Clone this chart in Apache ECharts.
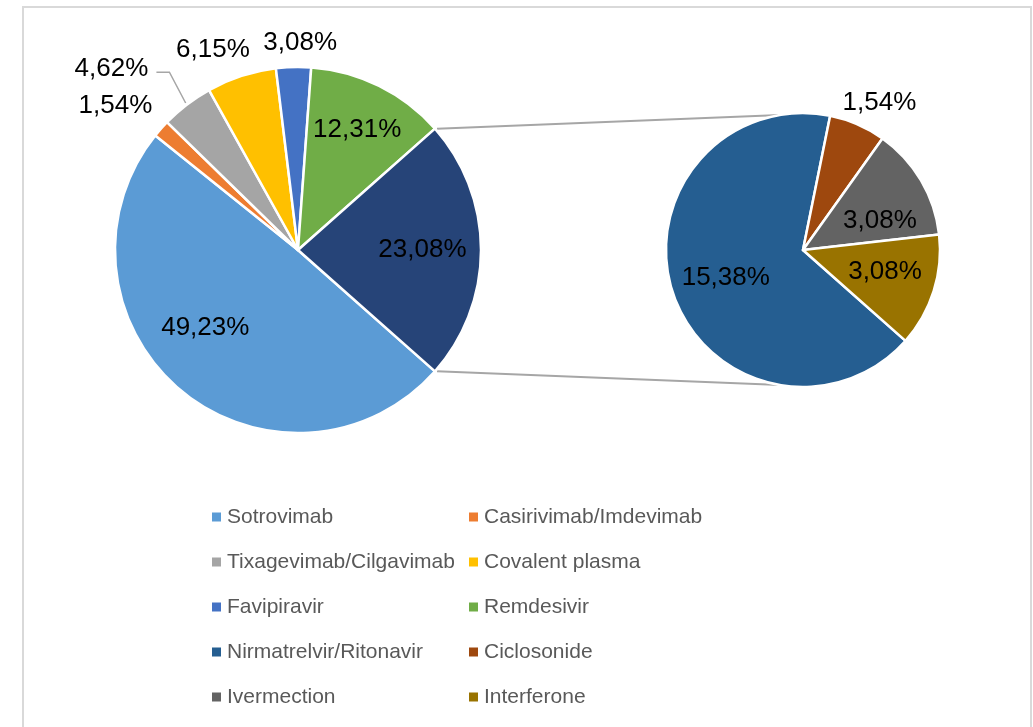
<!DOCTYPE html>
<html>
<head>
<meta charset="utf-8">
<script src="https://cdn.jsdelivr.net/npm/echarts@6/dist/echarts.min.js"></script>
<style>
html, body { margin: 0; padding: 0; background: #fff; overflow: hidden; }
#frame { position: absolute; left: 22px; top: 6px; width: 1010px; height: 800px; border: 2px solid #d9d9d9; box-sizing: border-box; }
#chart { position: absolute; left: 0; top: 0; width: 1033px; height: 727px; }
</style>
</head>
<body>
<div id="frame"></div>
<div id="chart"></div>
<script>
// values of the big pie (percent of all patients)
var mainNames = ['Sotrovimab', 'Casirivimab/Imdevimab', 'Tixagevimab/Cilgavimab', 'Covalent plasma', 'Favipiravir', 'Remdesivir'];
var mainValues = [49.23, 1.54, 4.62, 6.15, 3.08, 12.31];
// values split out into the small pie
var subNames = ['Nirmatrelvir/Ritonavir', 'Ciclosonide', 'Ivermection', 'Interferone'];
var subValues = [15.38, 1.54, 3.08, 3.08];

var mainColors = ['#5b9bd5', '#ed7d31', '#a5a5a5', '#ffc000', '#4472c4', '#70ad47'];
var otherColor = '#264478';
var subColors = ['#255e91', '#9e480e', '#636363', '#997300'];

// label placement: [radius factor, angle shift in degrees]
var mainLabelPlace = [[0.66, -10], [1.27, 3.3], [1.42, 8.5], [1.19, 5], [1.13, -2], [0.73, 0], [0.68, 0]];
var subLabelPlace = [[0.6, 1.5], [1.21, -4], [0.6, -10], [0.62, 2.5]];

var C1 = [298, 250], R1 = 183;
var C2 = [803, 250], R2 = 137;

function sum(a) {
  return a.reduce(function (s, v) { return s + v; }, 0);
}

var otherValue = sum(subValues);
var vals1 = mainValues.concat([otherValue]);
var total1 = sum(vals1);
var total2 = sum(subValues);
var start = -180 * otherValue / total1;

function midAngle(vals, total, i) {
  var cum = sum(vals.slice(0, i));
  return start - 360 * (cum + vals[i] / 2) / total;
}

function polar(c, r, deg) {
  var a = deg * Math.PI / 180;
  return [c[0] + r * Math.cos(a), c[1] - r * Math.sin(a)];
}

function fmt(v) {
  return v.toFixed(2).replace('.', ',') + '%';
}

var labelFont = { fontFamily: 'Liberation Sans, Arial, sans-serif', fontSize: 26, color: '#000' };

var mainData = mainNames.map(function (n, i) {
  return { name: n, value: mainValues[i], itemStyle: { color: mainColors[i] } };
});
mainData.push({ name: 'Other', value: otherValue, itemStyle: { color: otherColor } });

var subData = subNames.map(function (n, i) {
  return { name: n, value: subValues[i], itemStyle: { color: subColors[i] } };
});

// connector lines between the two pies
var topA = polar(C1, R1, -start);
var botA = polar(C1, R1, start);
var topB = polar(C2, R2, 99.5);
var botB = polar(C2, R2, -99.5);

// leader line of the Tixagevimab label
var tixaLabel = polar(C1, R1 * mainLabelPlace[2][0], midAngle(vals1, total1, 2) + mainLabelPlace[2][1]);
var tixaEdge = polar(C1, R1 + 2, midAngle(vals1, total1, 2));

var dom = document.getElementById('chart');
var myChart = echarts.init(dom, null, { renderer: 'canvas' });

var legendText = { fontFamily: 'Liberation Sans, Arial, sans-serif', fontSize: 21, color: '#595959', lineHeight: 24 };

var option = {
  animation: false,
  backgroundColor: 'transparent',
  legend: [
    {
      orient: 'vertical', left: 210, top: 505, itemGap: 21, padding: 0,
      icon: 'rect', itemWidth: 11, itemHeight: 11, selectedMode: false,
      textStyle: legendText,
      data: [mainNames[0], mainNames[2], mainNames[4], subNames[0], subNames[2]]
    },
    {
      orient: 'vertical', left: 467, top: 505, itemGap: 21, padding: 0,
      icon: 'rect', itemWidth: 11, itemHeight: 11, selectedMode: false,
      textStyle: legendText,
      data: [mainNames[1], mainNames[3], mainNames[5], subNames[1], subNames[3]]
    }
  ],
  graphic: [
    { type: 'line', shape: { x1: topA[0] + 2, y1: topA[1], x2: topB[0], y2: topB[1] }, style: { stroke: '#a6a6a6', lineWidth: 2 }, z: 0 },
    { type: 'line', shape: { x1: botA[0] + 2, y1: botA[1], x2: botB[0], y2: botB[1] }, style: { stroke: '#a6a6a6', lineWidth: 2 }, z: 0 },
    {
      type: 'polyline',
      shape: { points: [[tixaLabel[0] + 45, tixaLabel[1] + 3], [tixaLabel[0] + 58, tixaLabel[1] + 3], tixaEdge] },
      style: { stroke: '#a6a6a6', lineWidth: 1.5, fill: null },
      z: 0
    }
  ],
  series: [
    {
      type: 'pie',
      center: C1,
      radius: R1,
      startAngle: start,
      clockwise: true,
      data: mainData,
      itemStyle: { borderColor: '#fff', borderWidth: 2.5 },
      emphasis: { disabled: true },
      label: Object.assign({ show: true, position: 'inside', formatter: function (p) { return fmt(p.value); } }, labelFont),
      labelLine: { show: false },
      labelLayout: function (p) {
        var i = p.dataIndex;
        var pt = polar(C1, R1 * mainLabelPlace[i][0], midAngle(vals1, total1, i) + mainLabelPlace[i][1]);
        return { x: pt[0], y: pt[1], align: 'center', verticalAlign: 'middle' };
      }
    },
    {
      type: 'pie',
      center: C2,
      radius: R2,
      startAngle: start,
      clockwise: true,
      data: subData,
      itemStyle: { borderColor: '#fff', borderWidth: 2.5 },
      emphasis: { disabled: true },
      label: Object.assign({ show: true, position: 'inside', formatter: function (p) { return fmt(p.value); } }, labelFont),
      labelLine: { show: false },
      labelLayout: function (p) {
        var i = p.dataIndex;
        var pt = polar(C2, R2 * subLabelPlace[i][0], midAngle(subValues, total2, i) + subLabelPlace[i][1]);
        return { x: pt[0], y: pt[1], align: 'center', verticalAlign: 'middle' };
      }
    }
  ]
};

myChart.setOption(option);
</script>
</body>
</html>
